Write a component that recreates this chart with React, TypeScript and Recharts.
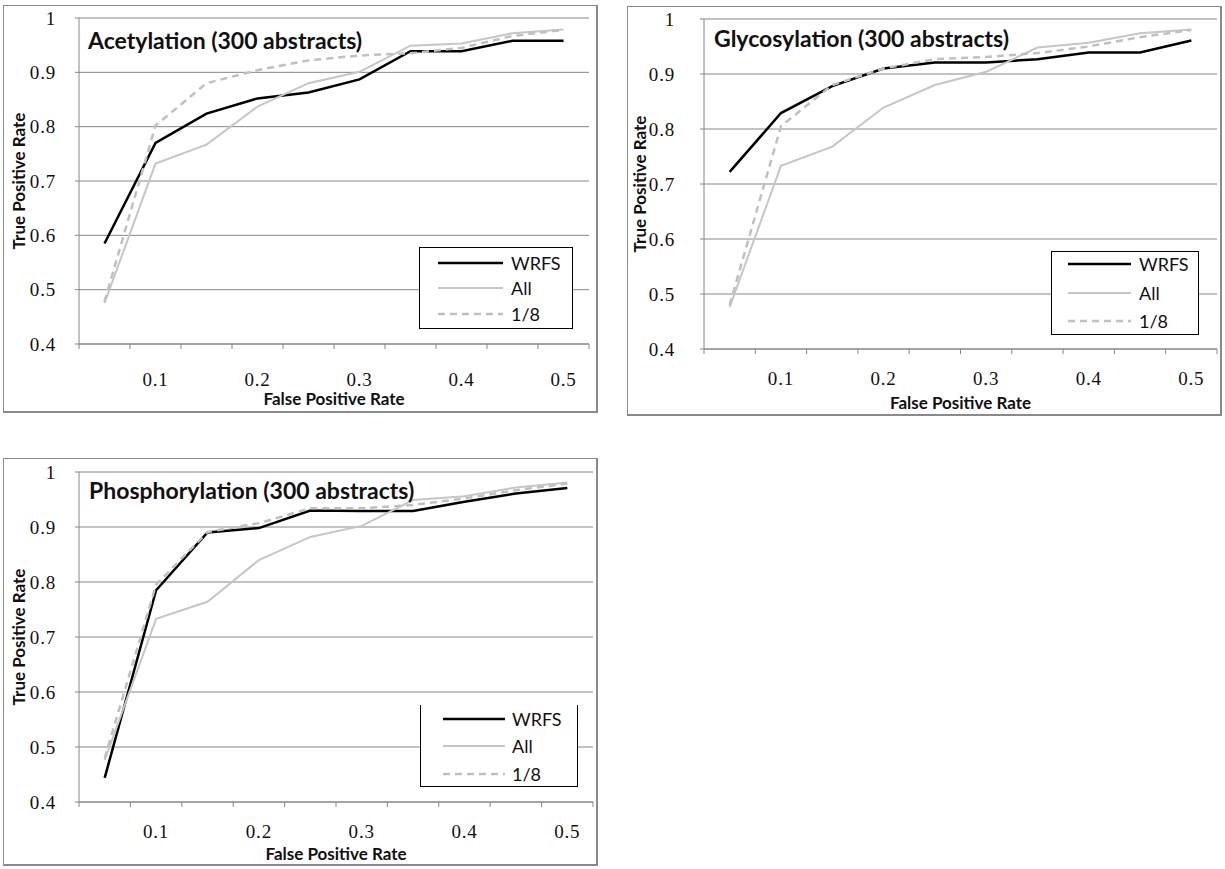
import React from 'react';
import { CartesianGrid, Legend, Line, LineChart, XAxis, YAxis } from 'recharts';

// false positive rate categories (x) and axis labels
const FPR = [0.05, 0.1, 0.15, 0.2, 0.25, 0.3, 0.35, 0.4, 0.45, 0.5];
const X_LABELS = [0.1, 0.2, 0.3, 0.4, 0.5];
const Y_TICKS = [0.4, 0.5, 0.6, 0.7, 0.8, 0.9, 1];

// true positive rates
const acetWrfs = [0.585, 0.77, 0.824, 0.852, 0.863, 0.887, 0.939, 0.939, 0.958, 0.958];
const acetAll = [0.475, 0.732, 0.767, 0.837, 0.88, 0.901, 0.949, 0.953, 0.972, 0.979];
const acetEighth = [0.478, 0.802, 0.88, 0.904, 0.922, 0.931, 0.935, 0.945, 0.967, 0.978];

const glycoWrfs = [0.722, 0.829, 0.878, 0.91, 0.921, 0.921, 0.927, 0.939, 0.939, 0.961];
const glycoAll = [0.476, 0.733, 0.768, 0.839, 0.88, 0.904, 0.948, 0.957, 0.974, 0.981];
const glycoEighth = [0.48, 0.805, 0.88, 0.91, 0.927, 0.931, 0.938, 0.95, 0.967, 0.98];

const phosWrfs = [0.444, 0.785, 0.89, 0.898, 0.93, 0.929, 0.929, 0.946, 0.961, 0.971];
const phosAll = [0.476, 0.733, 0.764, 0.84, 0.882, 0.902, 0.949, 0.956, 0.972, 0.981];
const phosEighth = [0.48, 0.795, 0.891, 0.907, 0.934, 0.934, 0.94, 0.952, 0.967, 0.979];

const GRID = '#868686';
const SANS = 'Lato, "Open Sans", sans-serif';
const SERIF = '"Liberation Serif", "DejaVu Serif", serif';

const SERIES = [
    { key: 'wrfs', name: 'WRFS', color: '#000000', width: 2.5, dash: undefined as string | undefined },
    { key: 'all', name: 'All', color: '#c6c6c6', width: 2, dash: undefined as string | undefined },
    { key: 'eighth', name: '1/8', color: '#c0c0c0', width: 2.5, dash: '7 5' },
];

const makeRows = (wrfs: number[], all: number[], eighth: number[]) =>
    FPR.map((fpr, i) => ({ fpr, wrfs: wrfs[i], all: all[i], eighth: eighth[i] }));

// tick marks sit between categories, labels sit on categories
const HALF = 0.025;
const BOUNDS = [FPR[0] - HALF, ...FPR.map(v => v + HALF)];
const X_TICKS = [...BOUNDS, ...X_LABELS].sort((a, b) => a - b);
const isLabel = (v: number) => X_LABELS.some(l => Math.abs(l - v) < 1e-9);

const PANELS = [
    {
        title: 'Acetylation (300 abstracts)',
        rows: makeRows(acetWrfs, acetAll, acetEighth),
        box: { left: 3, top: 5, width: 595, height: 408 },
        margin: { top: 13, right: 9, left: 0, bottom: 0 },
        yWidth: 76, xHeight: 69, yGap: 19, xLabelY: 35, xTitleOffset: 8, yTitleX: 16,
        titlePos: { left: 85, top: 21 },
        legend: { left: 416, top: 242, width: 154, height: 82, pad: 2, rowH: 25.5, lineL: 18, lineW: 65, textL: 91, noTop: false },
    },
    {
        title: 'Glycosylation (300 abstracts)',
        rows: makeRows(glycoWrfs, glycoAll, glycoEighth),
        box: { left: 627, top: 6, width: 595, height: 410 },
        margin: { top: 13, right: 5, left: 0, bottom: 0 },
        yWidth: 77, xHeight: 67, yGap: 25, xLabelY: 29, xTitleOffset: 7, yTitleX: 13,
        titlePos: { left: 87, top: 18 },
        legend: { left: 424, top: 245, width: 148, height: 84, pad: -2, rowH: 28.5, lineL: 16, lineW: 63, textL: 87, noTop: false },
    },
    {
        title: 'Phosphorylation (300 abstracts)',
        rows: makeRows(phosWrfs, phosAll, phosEighth),
        box: { left: 3, top: 458, width: 595, height: 408 },
        margin: { top: 14, right: 5, left: 0, bottom: 0 },
        yWidth: 76, xHeight: 64, yGap: 19, xLabelY: 29, xTitleOffset: 6, yTitleX: 16,
        titlePos: { left: 86, top: 18 },
        legend: { left: 417, top: 247, width: 158, height: 82, pad: 0, rowH: 27.5, lineL: 22, lineW: 62, textL: 91, noTop: true },
    },
];

const XTick = (props: any) => {
    const { x, y, payload, labelY } = props;
    if (isLabel(payload.value)) {
        return (
            <text x={x} y={y + labelY} dy="0.35em" textAnchor="middle" fontFamily={SERIF} fontSize={19} letterSpacing={0.8} fill="#111">
                {String(payload.value)}
            </text>
        );
    }
    return <line x1={x} x2={x} y1={y} y2={y + 5} stroke={GRID} strokeWidth={1} />;
};

const LegendBox = ({ cfg }: { cfg: typeof PANELS[number]['legend'] }) => (
    <div
        style={{
            boxSizing: 'border-box',
            width: cfg.width,
            height: cfg.height,
            border: '1.5px solid #000',
            borderTop: cfg.noTop ? 'none' : '1.5px solid #000',
            background: '#fff',
            position: 'relative',
            fontFamily: SANS,
            fontSize: 18,
            color: '#111',
        }}
    >
        {SERIES.map((s, i) => {
            const cy = cfg.pad + cfg.rowH * (i + 0.5);
            return (
                <div key={s.key} style={{ position: 'absolute', left: 0, top: cy - 12, height: 24, width: '100%' }}>
                    <svg width={cfg.lineL + cfg.lineW + 2} height={24} style={{ position: 'absolute', left: 0, top: 0 }}>
                        <line
                            x1={cfg.lineL}
                            x2={cfg.lineL + cfg.lineW}
                            y1={12}
                            y2={12}
                            stroke={s.color}
                            strokeWidth={s.width}
                            strokeDasharray={s.dash}
                        />
                    </svg>
                    <span style={{ position: 'absolute', left: cfg.textL, top: 0, lineHeight: '24px' }}>{s.name}</span>
                </div>
            );
        })}
    </div>
);

const RocPanel = ({ p }: { p: typeof PANELS[number] }) => (
    <div style={{ position: 'absolute', left: p.box.left, top: p.box.top, width: p.box.width, height: p.box.height }}>
        <LineChart width={p.box.width} height={p.box.height} data={p.rows} margin={p.margin}>
            <CartesianGrid vertical={false} stroke={GRID} strokeWidth={1} />
            <XAxis
                dataKey="fpr"
                type="number"
                domain={[BOUNDS[0], BOUNDS[BOUNDS.length - 1]]}
                ticks={X_TICKS}
                interval={0}
                height={p.xHeight}
                tickSize={0}
                tickMargin={0}
                tickLine={false}
                axisLine={{ stroke: GRID, strokeWidth: 1 }}
                tick={(t: any) => <XTick {...t} labelY={p.xLabelY} />}
                label={{
                    value: 'False Positive Rate',
                    position: 'insideBottom',
                    offset: p.xTitleOffset,
                    style: { fontFamily: SANS, fontWeight: 700, fontSize: 17, fill: '#111' },
                }}
            />
            <YAxis
                type="number"
                domain={[0.4, 1]}
                ticks={Y_TICKS}
                interval={0}
                width={p.yWidth}
                tickSize={4}
                tickMargin={p.yGap}
                tickLine={{ stroke: GRID }}
                axisLine={{ stroke: GRID, strokeWidth: 1 }}
                tick={{ fontFamily: SERIF, fontSize: 19, letterSpacing: 0.8, fill: '#111' }}
                tickFormatter={(v: number) => String(v)}
                label={{
                    value: 'True Positive Rate',
                    angle: -90,
                    position: 'insideLeft',
                    offset: p.yTitleX,
                    style: { textAnchor: 'middle', fontFamily: SANS, fontWeight: 700, fontSize: 17, fill: '#111' },
                }}
            />
            {SERIES.map(s => (
                <Line
                    key={s.key}
                    type="linear"
                    dataKey={s.key}
                    name={s.name}
                    stroke={s.color}
                    strokeWidth={s.width}
                    strokeDasharray={s.dash}
                    dot={false}
                    activeDot={false}
                    isAnimationActive={false}
                />
            ))}
            <Legend
                layout="vertical"
                align="center"
                verticalAlign="middle"
                wrapperStyle={{ left: p.legend.left, top: p.legend.top, width: p.legend.width, height: p.legend.height }}
                content={() => <LegendBox cfg={p.legend} />}
            />
        </LineChart>
        <div
            style={{
                position: 'absolute',
                left: p.titlePos.left,
                top: p.titlePos.top,
                fontFamily: SANS,
                fontWeight: 700,
                fontSize: 23,
                lineHeight: '28px',
                color: '#111',
                whiteSpace: 'nowrap',
            }}
        >
            {p.title}
        </div>
        <div
            style={{
                position: 'absolute',
                left: 0,
                top: 0,
                width: p.box.width,
                height: p.box.height,
                boxSizing: 'border-box',
                borderTop: '1.5px solid #8a8a8a',
                borderLeft: '1.5px solid #8a8a8a',
                borderRight: '2.5px solid #8a8a8a',
                borderBottom: '2px solid #8a8a8a',
                pointerEvents: 'none',
            }}
        />
    </div>
);

export default function App() {
    return (
        <div style={{ position: 'absolute', left: 0, top: 0, width: 1225, height: 869, background: '#fff' }}>
            {PANELS.map(p => (
                <RocPanel key={p.title} p={p} />
            ))}
        </div>
    );
}
